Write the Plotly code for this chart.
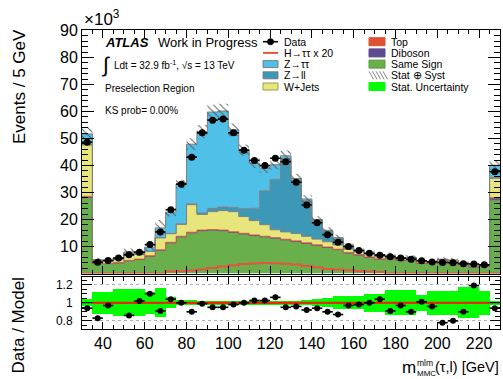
import numpy as np
import plotly.graph_objects as go

# ---------------- data (values in units of 10^3 events) ----------------
edges = np.arange(30, 231, 5)          # 5 GeV bins, 30-230 GeV (first/last = under/overflow)
centers = edges[:-1] + 2.5

data = [48.6, 4.2, 4.8, 5.7, 6.9, 7.9, 10.7, 15.4, 23.6, 33.1,
        43.1, 52.1, 56.8, 57.2, 52.1, 45.7, 41.9, 40.0, 42.7, 41.4,
        33.8, 25.4, 18.8, 14.4, 11.6, 10.0, 8.5, 7.5, 6.8, 6.2,
        5.7, 5.3, 4.7, 4.3, 4.1, 4.0, 3.6, 3.5, 3.2, 37.7]

same_sign = [28.0, 3.7, 3.6, 3.9, 4.7, 5.2, 6.4, 8.6, 11.3, 13.5,
             15.0, 15.8, 16.0, 15.8, 15.2, 14.6, 14.0, 13.5, 13.0, 12.4,
             11.8, 11.1, 10.4, 9.6, 8.8, 7.6, 6.8, 6.0, 5.25, 5.5,
             4.85, 4.9, 3.8, 3.7, 4.45, 4.2, 3.3, 2.3, 2.7, 27.2]

diboson = [0.2, 0.05, 0.05, 0.05, 0.05, 0.05, 0.08, 0.08, 0.1, 0.12,
           0.12, 0.12, 0.12, 0.12, 0.12, 0.12, 0.12, 0.12, 0.12, 0.12,
           0.12, 0.12, 0.1, 0.1, 0.08, 0.08, 0.08, 0.05, 0.05, 0.05,
           0.05, 0.05, 0.04, 0.04, 0.04, 0.04, 0.04, 0.04, 0.04, 0.5]

top = [0.4, 0.1, 0.1, 0.1, 0.1, 0.1, 0.12, 0.12, 0.15, 0.18,
       0.18, 0.18, 0.18, 0.18, 0.18, 0.18, 0.18, 0.18, 0.18, 0.18,
       0.18, 0.18, 0.15, 0.15, 0.12, 0.12, 0.12, 0.1, 0.1, 0.1,
       0.1, 0.1, 0.06, 0.06, 0.06, 0.06, 0.06, 0.06, 0.06, 0.4]

wjets = [19.0, 0.8, 0.8, 1.2, 2.5, 1.8, 1.6, 4.4, 3.2, 4.4,
         10.2, 5.8, 6.6, 7.2, 7.4, 6.2, 5.3, 4.3, 2.9, 2.7,
         2.7, 2.4, 2.1, 1.9, 1.6, 1.2, 1.0, 0.9, 0.8, 0.8,
         0.65, 0.6, 0.5, 0.5, 0.55, 0.5, 0.4, 0.3, 0.3, 7.2]

zll = [0.2, 0.05, 0.05, 0.05, 0.05, 0.05, 0.05, 0.1, 0.1, 0.2,
       0.3, 0.5, 1.2, 1.3, 1.5, 2.9, 4.6, 12.5, 18.7, 27.2,
       19.8, 13.1, 6.7, 3.75, 2.2, 1.0, 0.5, 0.3, 0.2, 0.2,
       0.1, 0.1, 0.1, 0.1, 0.1, 0.1, 0.1, 0.1, 0.1, 0.2]

ztautau = [3.9, 0.4, 0.35, 0.5, 0.6, 0.55, 1.45, 3.6, 7.85, 14.7,
           22.1, 30.2, 35.7, 35.6, 28.8, 21.7, 16.7, 8.4, 5.4, 1.0,
           0.6, 0.7, 0.55, 0.5, 0.5, 0.3, 0.2, 0.15, 0.1, 0.15,
           0.15, 0.15, 0.15, 0.1, 0.1, 0.1, 0.1, 0.1, 0.1, 4.6]

higgs_x20 = [0, 0, 0, 0, 0, 0, 0, 0, 0.74, 0.86,
             1.1, 1.5, 2.0, 2.6, 3.1, 3.5, 3.7, 3.9, 3.8, 3.6,
             3.3, 2.8, 2.3, 1.7, 1.5, 1.2, 0.86, 0.74, 0.6, 0,
             0, 0, 0, 0, 0, 0, 0, 0, 0, 0]

# relative stat (+) syst uncertainty of the model (hatched band)
tot_unc = [0.05, 0.13, 0.13, 0.16, 0.16, 0.16, 0.13, 0.17, 0.07, 0.05,
           0.045, 0.045, 0.045, 0.045, 0.045, 0.045, 0.045, 0.045, 0.045, 0.045,
           0.05, 0.05, 0.06, 0.07, 0.08, 0.08, 0.08, 0.11, 0.11, 0.15,
           0.15, 0.15, 0.1, 0.14, 0.14, 0.14, 0.18, 0.18, 0.14, 0.045]

# relative stat uncertainty (green band in ratio)
stat_unc = [0.04, 0.12, 0.12, 0.15, 0.15, 0.15, 0.12, 0.16, 0.06, 0.03,
            0.03, 0.02, 0.02, 0.02, 0.02, 0.02, 0.02, 0.02, 0.02, 0.02,
            0.025, 0.03, 0.04, 0.05, 0.07, 0.07, 0.07, 0.1, 0.1, 0.14,
            0.14, 0.14, 0.09, 0.13, 0.13, 0.13, 0.17, 0.17, 0.13, 0.02]

# data / model
ratio = [0.94, 0.83, 0.97, None, 0.86, 1.02, 1.10, 0.91, 1.04, 1.00,
         0.90, 0.99, 0.95, 0.95, 0.98, 1.00, 1.025, 1.025, 1.06, 0.95,
         0.96, 0.92, 0.94, 0.90, 0.87, 0.97, 0.98, 1.00, 1.04, 0.91,
         0.97, 0.90, 1.01, 0.96, 0.78, 0.80, 0.90, 1.19, None, 0.94]

# ---------------- styling ----------------
FONT = "Liberation Sans, Arial, Helvetica, sans-serif"
C_SS = "#69AF4B"
C_DIB = "#5E4A8E"
C_TOP = "#DE5233"
C_W = "#E6E67C"
C_ZLL = "#3D98B8"
C_ZTT = "#4FC1E9"
C_H = "#E8533C"
C_OUT = "#7F7F7F"

layers = [("Same Sign", same_sign, C_SS, C_OUT, 1),
          ("Diboson", diboson, C_DIB, C_DIB, 0.8),
          ("Top", top, C_TOP, C_TOP, 0.8),
          ("W+Jets", wjets, C_W, C_OUT, 1),
          ("Z→ll", zll, C_ZLL, C_OUT, 1),
          ("Z→ττ", ztautau, C_ZTT, C_OUT, 1)]


def steps(v):
    v = list(v)
    return v + [v[-1]]


fig = go.Figure()

cum = np.zeros(len(centers))
for i, (name, vals, col, lcol, lw) in enumerate(layers):
    cum = cum + np.array(vals)
    fig.add_trace(go.Scatter(
        x=edges, y=steps(cum), mode="lines", name=name,
        line=dict(shape="hv", color=lcol, width=lw),
        fill="tozeroy" if i == 0 else "tonexty", fillcolor=col,
        xaxis="x", yaxis="y", showlegend=False, hoverinfo="skip"))

total = cum
unc = np.array(tot_unc)
fig.add_trace(go.Scatter(
    x=edges, y=steps(total * (1 - unc)), mode="lines",
    line=dict(shape="hv", width=0, color="rgba(0,0,0,0)"),
    xaxis="x", yaxis="y", showlegend=False, hoverinfo="skip"))
fig.add_trace(go.Scatter(
    x=edges, y=steps(total * (1 + unc)), mode="lines", name="Stat ⊕ Syst",
    line=dict(shape="hv", width=0, color="rgba(0,0,0,0)"),
    fill="tonexty", fillcolor="rgba(0,0,0,0)",
    fillpattern=dict(shape="\\", fgcolor="#555555", bgcolor="rgba(0,0,0,0)",
                     size=5, solidity=0.18, fillmode="replace"),
    xaxis="x", yaxis="y", showlegend=False, hoverinfo="skip"))

fig.add_trace(go.Scatter(
    x=edges, y=steps(higgs_x20), mode="lines", name="H→ττ x 20",
    line=dict(shape="hv", color=C_H, width=2),
    xaxis="x", yaxis="y", showlegend=False, hoverinfo="skip"))

d = np.array(data)
fig.add_trace(go.Scatter(
    x=centers, y=d, mode="markers", name="Data",
    marker=dict(color="black", size=7),
    error_x=dict(type="constant", value=2.5, width=0, thickness=1.6, color="black"),
    error_y=dict(type="data", array=np.sqrt(d * 1000) / 1000, width=0, thickness=1.6, color="black"),
    xaxis="x", yaxis="y", showlegend=False, hoverinfo="skip"))

# ---------------- ratio panel ----------------
su = np.array(stat_unc)
fig.add_trace(go.Bar(
    x=centers, y=2 * su, base=1 - su, width=5,
    marker=dict(color="#00FF00", line=dict(width=0)),
    xaxis="x2", yaxis="y2", showlegend=False, hoverinfo="skip"))
fig.add_trace(go.Scatter(
    x=[edges[0], edges[-1]], y=[1, 1], mode="lines",
    line=dict(color="black", width=1),
    xaxis="x2", yaxis="y2", showlegend=False, hoverinfo="skip"))
fig.add_trace(go.Scatter(
    x=[edges[1], edges[-2]], y=[1, 1], mode="lines",
    line=dict(color="#FF1A00", width=2),
    xaxis="x2", yaxis="y2", showlegend=False, hoverinfo="skip"))
fig.add_trace(go.Scatter(
    x=centers, y=ratio, mode="markers",
    marker=dict(color="black", size=6),
    error_x=dict(type="constant", value=2.5, width=0, thickness=1.6, color="black"),
    xaxis="x2", yaxis="y2", showlegend=False, hoverinfo="skip"))

# ---------------- axes ----------------
L, R, T, B = 82, 3, 30, 50
W, H = 503, 379
PW, PH = W - L - R, H - T - B
main_bottom_px, ratio_top_px = 273.5, 277


def fy(py):  # pixel y -> domain fraction
    return (H - B - py) / PH


tick_common = dict(ticks="inside", showline=True, linecolor="black", linewidth=1,
                   mirror="allticks", tickcolor="black", tickwidth=1,
                   showgrid=False, zeroline=False,
                   tickfont=dict(family=FONT, size=16, color="black"))

fig.update_layout(
    width=W, height=H,
    margin=dict(l=L, r=R, t=T, b=B),
    paper_bgcolor="white", plot_bgcolor="white",
    showlegend=False, bargap=0,
    font=dict(family=FONT, color="black"),
    xaxis=dict(domain=[0, 1], anchor="y", range=[30, 230], tick0=0, dtick=20,
               ticklen=8, showticklabels=False,
               minor=dict(dtick=5, ticklen=4, ticks="inside", tickcolor="black"),
               **tick_common),
    yaxis=dict(domain=[fy(main_bottom_px), 1], anchor="x", range=[0, 90.2],
               tickvals=[10, 20, 30, 40, 50, 60, 70, 80, 90], ticklen=12,
               minor=dict(dtick=2, ticklen=6, ticks="inside", tickcolor="black"),
               **tick_common),
    xaxis2=dict(domain=[0, 1], anchor="y2", range=[30, 230], tick0=0, dtick=20,
                ticklen=7,
                minor=dict(dtick=5, ticklen=4, ticks="inside", tickcolor="black"),
                **tick_common),
    yaxis2=dict(domain=[0, fy(ratio_top_px)], anchor="x2", range=[0.71, 1.285],
                tickvals=[0.8, 1.0, 1.2], ticktext=["0.8", "1", "1.2"], ticklen=10,
                minor=dict(dtick=0.05, ticklen=5, ticks="inside", tickcolor="black"),
                ticklabelstandoff=6,
                **{k: v for k, v in tick_common.items() if k not in ("showgrid", "tickfont")},
                showgrid=True, gridcolor="#B0B0B0", griddash="dot", gridwidth=1,
                tickfont=dict(family=FONT, size=12, color="black")),
)


# ---------------- text & legend (pixel helpers) ----------------
def px(x):
    return (x - L) / PW


def py(y):
    return (H - B - y) / PH


ann = []
shapes = []


def text(x, y, s, size, xanchor="left", yanchor="middle", angle=0, **kw):
    ann.append(dict(xref="paper", yref="paper", x=px(x), y=py(y), text=s,
                    showarrow=False, xanchor=xanchor, yanchor=yanchor,
                    textangle=angle, font=dict(family=FONT, size=size, color="black"), **kw))


text(82, 18, "×10<sup>3</sup>", 17)
text(19.5, 27, "Events / 5 GeV", 17, xanchor="center", yanchor="top", angle=-90)
text(17.5, 326, "Data / Model", 17, xanchor="center", yanchor="middle", angle=-90)

# x-axis title  m^{mlm}_{MMC}(τ,l) [GeV]
text(400, 367, "m", 17)
text(415, 363, "mlm", 8.5)
text(415, 373.5, "MMC", 8)
text(501, 367, "(τ,l) [GeV]", 14.5, xanchor="right")

text(103, 43, "<b><i>ATLAS</i></b>", 13)
text(156, 43, "Work in Progress", 13)
text(100, 65, "∫", 21)
text(112, 65, "Ldt = 32.9 fb<sup>-1</sup>, √s = 13 TeV", 10)
text(103, 88, "Preselection Region", 10)
text(103, 110, "KS prob= 0.00%", 10)

leg1 = ["Data", "H→ττ x 20", "Z→ττ", "Z→ll", "W+Jets"]
leg2 = ["Top", "Diboson", "Same Sign", "Stat ⊕ Syst", "Stat. Uncertainty"]
rows = [41.7, 52.9, 64.1, 75.3, 86.5]


def rect(x0, x1, y0, y1, fill, line="#7F7F7F", lw=1):
    shapes.append(dict(type="rect", xref="paper", yref="paper",
                       x0=px(x0), x1=px(x1), y0=py(y1), y1=py(y0),
                       fillcolor=fill, line=dict(color=line, width=lw)))


def seg(x0, y0, x1, y1, color, lw):
    shapes.append(dict(type="line", xref="paper", yref="paper",
                       x0=px(x0), x1=px(x1), y0=py(y0), y1=py(y1),
                       line=dict(color=color, width=lw)))


c1s, c1e, c1t = 263, 278, 282
c2s, c2e, c2t = 369, 385, 389
# column 1
seg(c1s, rows[0], c1e, rows[0], "black", 1.6)
shapes.append(dict(type="circle", xref="paper", yref="paper",
                   x0=px(267.5), x1=px(273.5), y0=py(rows[0] + 3), y1=py(rows[0] - 3),
                   fillcolor="black", line=dict(color="black", width=1)))
seg(c1s, rows[1], c1e, rows[1], C_H, 2)
rect(c1s, c1e, rows[2] - 3.5, rows[2] + 3.5, C_ZTT)
rect(c1s, c1e, rows[3] - 3.5, rows[3] + 3.5, C_ZLL)
rect(c1s, c1e, rows[4] - 3.5, rows[4] + 3.5, C_W, line="#9A9A55")
# column 2
rect(c2s, c2e, rows[0] - 4, rows[0] + 4, C_TOP, line=C_TOP)
rect(c2s, c2e, rows[1] - 4, rows[1] + 4, C_DIB, line=C_DIB)
rect(c2s, c2e, rows[2] - 4, rows[2] + 4, C_SS, line="#5A9A3E")
for hx in [369, 372.5, 376, 379.5, 383]:
    seg(hx, rows[3] - 4, hx + 4.5, rows[3] + 4, "#666666", 0.8)
rect(c2s, c2e, rows[4] - 4, rows[4] + 4, "#00FF00", line="#00FF00")

for name, y in zip(leg1, rows):
    text(c1t, y, name, 10.5)
for name, y in zip(leg2, rows):
    text(c2t, y, name, 10.5)

fig.update_layout(annotations=ann, shapes=shapes)
fig.write_html("out.html")
